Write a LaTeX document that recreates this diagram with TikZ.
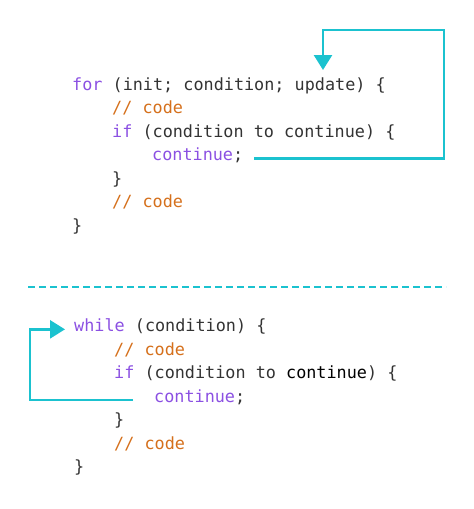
\documentclass[tikz,border=0pt]{standalone}
\usepackage{fontspec}
\setmonofont{DejaVu Sans Mono}
\usetikzlibrary{arrows.meta}
\definecolor{kw}{HTML}{8B50E2}
\definecolor{cmt}{HTML}{D5701C}
\definecolor{jump}{HTML}{1BC2CF}
\definecolor{txt}{HTML}{333333}

\begin{document}
\begin{tikzpicture}[x=1pt, y=-1pt,
      >={Triangle[length=15pt, width=18pt]},
      every node/.style={font=\ttfamily\fontsize{16.8}{20}\selectfont,
        text=txt, inner sep=0pt, anchor=base west},
      flow/.style={draw=jump, line width=2.6pt, ->}]
    \useasboundingbox (0,0) rectangle (474,509);
    % for loop
    \node (for) at (72,90) {\textcolor{kw}{for} (init; condition; update) \{};
    \node (cm1) at (112,113.5) {\textcolor{cmt}{// code}};
    \node (if1) at (112,137) {\textcolor{kw}{if} (condition to continue) \{};
    \node (cont1) at (152,160.5) {\textcolor{kw}{continue};};
    \node (cl1) at (112,184) {\}};
    \node (cm2) at (112,207.5) {\textcolor{cmt}{// code}};
    \node (end1) at (72,231) {\}};
    \coordinate (rtop) at (444,30);
    \coordinate (tip1) at (323,70);
    \draw[flow] ([xshift=11pt]cont1.mid east) -| (rtop) -| (tip1);
    % separator
    \draw[draw=jump, line width=2.4pt, dash pattern=on 7pt off 4pt]
      (28,287) -- (446,287);
    % while loop
    \node (while) at (74,331.5) {\textcolor{kw}{while} (condition) \{};
    \node (cm3) at (114,355) {\textcolor{cmt}{// code}};
    \node (if2) at (114,378.5)
      {\textcolor{kw}{if} (condition to \textcolor{black}{continue}) \{};
    \node (cont2) at (154,402) {\textcolor{kw}{continue};};
    \node (cl2) at (114,425.5) {\}};
    \node (cm4) at (114,449) {\textcolor{cmt}{// code}};
    \node (end2) at (74,472.5) {\}};
    \draw[flow] ([xshift=-21pt]cont2.mid west) -- ++(-103pt,0)
      |- ([xshift=-9pt]while.mid west);
  \end{tikzpicture}
\end{document}
